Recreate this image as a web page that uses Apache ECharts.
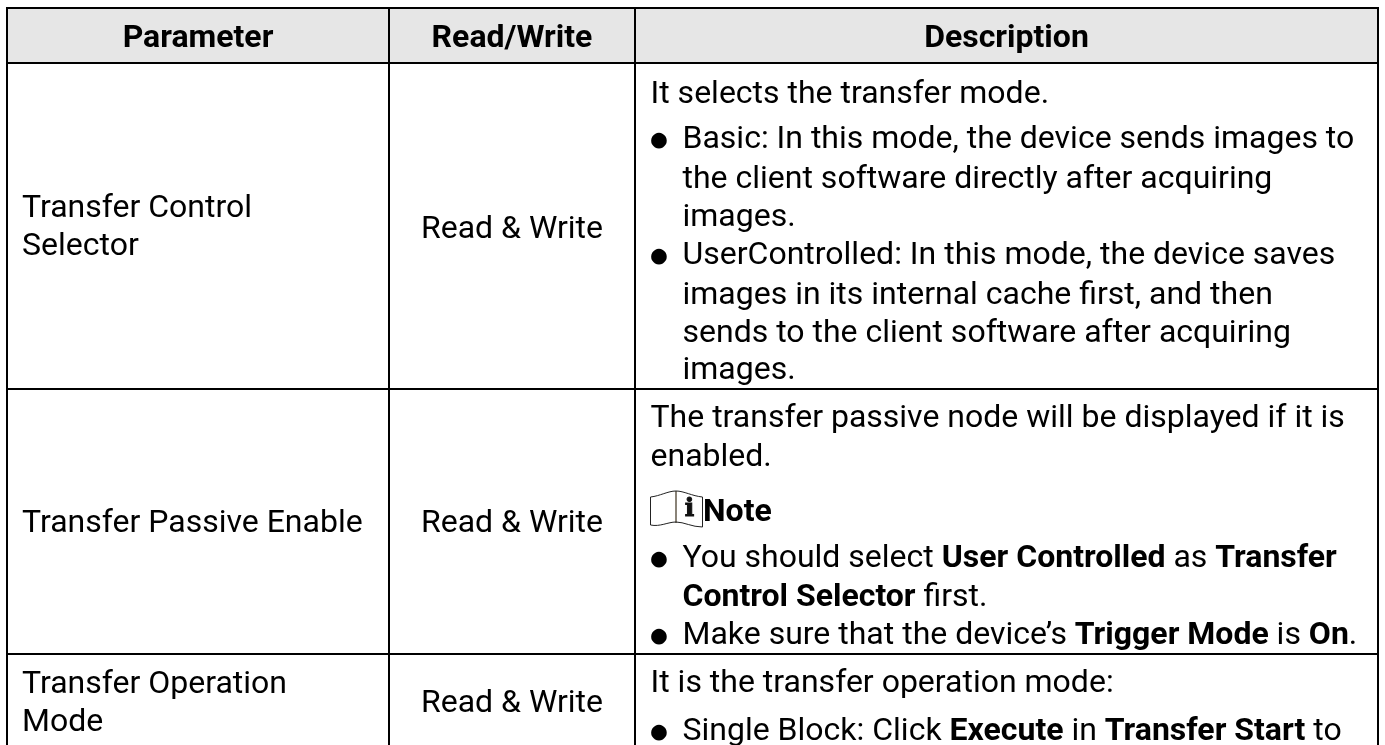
<!DOCTYPE html>
<html><head><meta charset="utf-8">
<style>html,body{margin:0;padding:0;background:#fff}#c{width:1385px;height:745px}</style>
<script src="https://cdn.jsdelivr.net/npm/echarts@6/dist/echarts.min.js"></script>
</head><body><div id="c"></div>
<script>
const headers = ['Parameter', 'Read/Write', 'Description'];
const parameterLines = [['Transfer Control', 'Selector'], ['Transfer Passive Enable'], ['Transfer Operation', 'Mode']];
const accessValues = ['Read & Write', 'Read & Write', 'Read & Write'];
const row1Text = ['It selects the transfer mode.', '* Basic: In this mode, the device sends images to', '>the client software directly after acquiring', '>images.', '* UserControlled: In this mode, the device saves', '>images in its internal cache first, and then', '>sends to the client software after acquiring', '>images.'];
const row2Text = ['The transfer passive node will be displayed if it is', 'enabled.', '{b|Note}', '* You should select {b|User Controlled} as {b|Transfer}', '>{b|Control Selector} first.', '* Make sure that the device’s {b|Trigger Mode} is {b|On}.'];
const row3Text = ['It is the transfer operation mode:', '* Single Block: Click {b|Execute} in {b|Transfer Start} to'];

const FS = 32, FF = 'Roboto';
const colX = [7, 389, 635, 1378];
const rowY = [8, 63, 389, 654];
const lineW = 2;
const descX = 650.5, hang = 682.5, noteX = 703, bulletX = 659;
const MID = 8.5; // baseline -> middle offset
const ys1 = [103, 148, 188, 226, 264, 304, 342, 379];
const ys2 = [427, 466, 521, 567, 606, 644];
const ys3 = [692, 740];
const g = [];
const rich = {b: {fontFamily: FF, fontSize: FS, fontWeight: 'bold', fill: '#000', color: '#000'}};
function txt(s, x, base, align, weight, size, family, fill, extra) {
  g.push({type: 'text', x, y: base - MID, z: 5, style: Object.assign({text: s, x: 0, y: 0, fill: fill || '#000',
    fontFamily: family || FF, fontSize: size || FS, fontWeight: weight || 'normal', align: align || 'left', verticalAlign: 'middle', rich}, extra || {})});
}
function rect(x, y, w, h, fill) { g.push({type: 'rect', z: 1, shape: {x, y, width: w, height: h}, style: {fill}}); }
rect(colX[0], rowY[0], colX[3] - colX[0], rowY[1] - rowY[0], '#e6e6e6');
colX.forEach(x => rect(x - lineW / 2, rowY[0] - 1, lineW, 745, '#000'));
rowY.forEach(y => rect(colX[0] - 1, y - 1, colX[3] - colX[0] + 2, lineW, '#000'));
const hdrC = [(colX[0] + colX[1]) / 2, (colX[1] + colX[2]) / 2, (colX[2] + colX[3]) / 2];
headers.forEach((h, i) => txt(h, hdrC[i], 47, 'center', 'bold'));
const paramBase = [[217, 255], [532], [693, 731]];
const accessBase = [238, 532, 712];
parameterLines.forEach((ls, r) => ls.forEach((s, i) => txt(s, 22, paramBase[r][i])));
accessValues.forEach((s, r) => txt(s, hdrC[1], accessBase[r], 'center'));
function block(lines, ys) {
  lines.forEach((l, i) => {
    if (l === '{b|Note}') txt(l, noteX, ys[i]);
    else if (l[0] === '>') txt(l.slice(1), hang, ys[i]);
    else if (l[0] === '*') { txt('●', bulletX, ys[i] - 7 + MID, 'center', 'normal', 20.5, 'DejaVu Sans'); txt(l.slice(2), hang, ys[i]); }
    else txt(l, descX, ys[i]);
  });
}
block(row1Text, ys1); block(row2Text, ys2); block(row3Text, ys3);
// note icon
function curve(x1, y1, cx1, cy1, cx2, cy2, x2, y2, stroke) {
  g.push({type: 'bezierCurve', z: 3, shape: {x1, y1, cpx1: cx1, cpy1: cy1, cpx2: cx2, cpy2: cy2, x2, y2}, style: {fill: null, stroke: stroke || '#222', lineWidth: 1}});
}
function seg(x1, y1, x2, y2, stroke, w) {
  g.push({type: 'line', z: 3, shape: {x1, y1, x2, y2}, style: {stroke: stroke || '#222', lineWidth: w || 1}});
}
seg(650.5, 497, 650.5, 525); seg(702.5, 497, 702.5, 527);
seg(676, 491, 676, 523, '#8a8378', 2);
curve(650.5, 497, 660, 496, 668, 491, 676, 491);
curve(676, 491, 684, 491, 692, 496, 702.5, 497);
curve(650.5, 525, 660, 527, 668, 522, 676, 522);
curve(676, 522, 684, 522, 692, 527, 702.5, 527);
txt('i', 689.5, 518, 'center', 'bold', 25, 'DejaVu Serif', '#111', {stroke: '#111', lineWidth: 1});
const chart = echarts.init(document.getElementById('c'), null, {renderer: 'canvas'});
chart.setOption({animation: false, backgroundColor: '#fff', graphic: {elements: g}});
</script></body></html>
